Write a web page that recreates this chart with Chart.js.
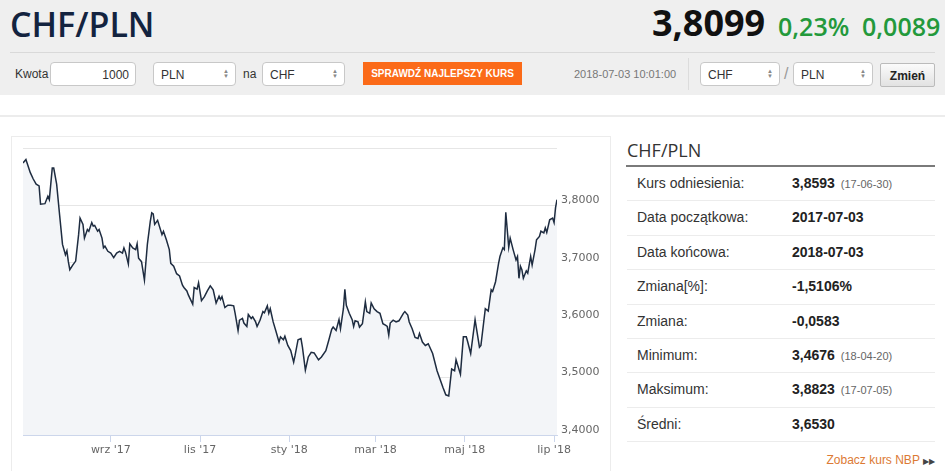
<!DOCTYPE html>
<html lang="pl">
<head>
    <meta charset="UTF-8">
    <title>CHF/PLN</title>
    <script src="https://cdn.jsdelivr.net/npm/chart.js"></script>
    <style>
        body { margin: 0; width: 945px; height: 471px; overflow: hidden; background: #fff;
               font-family: "Liberation Sans", Arial, sans-serif; color: #333; position: relative; }
        .abs { position: absolute; }
        #band { left: 0; top: 0; width: 945px; height: 95px; background: #efefef; }
        .big { font-family: "Open Sans", sans-serif; white-space: nowrap; }
        .ctl { top: 62px; height: 24px; line-height: 24px; font-size: 12px; }
        .sel { background: #fff; border: 1px solid #c8c8c8; border-radius: 4px; box-sizing: border-box;
               padding-left: 7px; color: #333; }
        .sel .arr { position: absolute; right: 6px; top: 6px; font-size: 6px; line-height: 5px; color: #888; }
        .row { position: absolute; left: 627px; width: 308px; height: 33.4px; line-height: 33.4px;
               border-bottom: 1px solid #ececec; font-size: 14px; }
        .row .lab { position: absolute; left: 10px; color: #333; }
        .row .val { position: absolute; left: 165px; font-weight: bold; color: #222; }
        .row .dt { font-size: 11px; font-weight: normal; color: #666; margin-left: 6px; }
    </style>
</head>
<body>
    <div id="band" class="abs"></div>
    <div class="abs big" style="left:10px;top:7px;font-size:34px;line-height:34px;font-weight:600;color:#13233f;">CHF/PLN</div>
    <div class="abs big" style="left:652px;top:5px;font-size:36px;line-height:36px;font-weight:700;color:#111;">3,8099</div>
    <div class="abs big" style="left:778px;top:14px;font-size:25px;line-height:25px;font-weight:600;color:#23993b;">0,23%</div>
    <div class="abs big" style="left:862px;top:14px;font-size:25px;line-height:25px;font-weight:600;color:#23993b;">0,0089</div>
    <div class="abs" style="left:10px;top:52px;width:925px;height:1px;background:#d9d9d9;"></div>

    <div class="abs ctl" style="left:15px;">Kwota</div>
    <div class="abs ctl sel" style="left:50px;width:86px;text-align:right;padding-right:6px;">1000</div>
    <div class="abs ctl sel" style="left:153px;width:83px;">PLN<span class="arr">&#9650;<br>&#9660;</span></div>
    <div class="abs ctl" style="left:243px;">na</div>
    <div class="abs ctl sel" style="left:262px;width:83px;">CHF<span class="arr">&#9650;<br>&#9660;</span></div>
    <div class="abs ctl" style="left:363px;width:159px;height:23px;line-height:23px;background:#fb6a18;color:#fff;font-size:10px;font-weight:bold;text-align:center;">SPRAWDŹ NAJLEPSZY KURS</div>
    <div class="abs ctl" style="left:574px;font-size:11px;color:#777;">2018-07-03 10:01:00</div>
    <div class="abs" style="left:688px;top:58px;width:1px;height:32px;background:#dcdcdc;"></div>
    <div class="abs ctl sel" style="left:700px;width:80px;">CHF<span class="arr">&#9650;<br>&#9660;</span></div>
    <div class="abs ctl" style="left:784px;font-size:16px;color:#999;">/</div>
    <div class="abs ctl sel" style="left:793px;width:80px;">PLN<span class="arr">&#9650;<br>&#9660;</span></div>
    <div class="abs ctl" style="left:880px;top:63px;width:55px;box-sizing:border-box;border:1px solid #bbb;border-radius:2px;background:linear-gradient(#fbfbfb,#e2e2e2);font-weight:bold;text-align:center;color:#222;">Zmień</div>

    <div class="abs" style="left:0;top:115px;width:945px;height:2px;background:#ececec;"></div>
    <div class="abs" style="left:11px;top:136px;width:598px;height:340px;border:1px solid #ececec;border-bottom:none;"></div>

    <div class="abs" style="left:12px;top:137px;width:598px;height:334px;">
        <canvas id="rateChart" width="598" height="334"></canvas>
    </div>

    <div class="abs big" style="left:627px;top:141px;font-size:18px;line-height:18px;color:#333;">CHF/PLN</div>
    <div class="abs" style="left:626px;top:165px;width:309px;height:2px;background:#7a7a7a;"></div>
    <div id="stats"></div>
    <div class="abs" style="left:760px;width:175px;top:453px;font-size:12px;text-align:right;color:#dc7a34;">Zobacz kurs NBP <span style="font-size:8px;color:#444;">&#9654;&#9654;</span></div>

    <script>
        // dni od 2017-07-03
        const days = [
            0, 2, 5, 7, 9, 11, 12, 15, 17, 18,
            20, 21, 23, 25, 27, 29, 30, 31, 32, 34,
            36, 38, 39, 41, 42, 44, 45, 47, 48, 49,
            51, 52, 54, 55, 56, 58, 60, 62, 64, 66,
            68, 69, 70, 72, 73, 75, 77, 78, 79, 81,
            83, 85, 87, 88, 89, 90, 92, 95, 96, 98,
            100, 101, 103, 105, 107, 109, 110, 112, 113, 116,
            117, 119, 120, 122, 124, 126, 128, 130, 132, 134,
            135, 136, 138, 140, 142, 144, 145, 147, 148, 150,
            151, 153, 154, 156, 157, 159, 160, 162, 164, 165,
            167, 168, 169, 171, 173, 175, 176, 178, 179, 181,
            183, 185, 186, 188, 190, 191, 193, 195, 197, 199,
            202, 204, 207, 209, 211, 212, 214, 216, 217, 219,
            220, 221, 223, 225, 226, 227, 229, 230, 232, 234,
            235, 237, 238, 240, 242, 244, 246, 248, 249, 250,
            251, 253, 255, 257, 258, 260, 261, 263, 264, 266,
            268, 270, 271, 273, 275, 277, 280, 283, 287, 289,
            291, 293, 295, 296, 299, 301, 303, 304, 306, 309,
            312, 313, 316, 318, 320, 321, 323, 325, 326, 328,
            329, 330, 332, 333, 335, 337, 338, 339, 340, 341,
            342, 344, 345, 347, 348, 350, 351, 353, 354, 356,
            357, 358, 360, 362, 363, 364, 365
        ];
        const rates = [
            3.874, 3.880, 3.857, 3.846, 3.837, 3.834, 3.802, 3.803, 3.816, 3.810,
            3.865, 3.865, 3.837, 3.784, 3.732, 3.714, 3.721, 3.702, 3.688, 3.696,
            3.703, 3.749, 3.778, 3.767, 3.743, 3.758, 3.755, 3.770, 3.764, 3.765,
            3.755, 3.758, 3.743, 3.726, 3.729, 3.720, 3.717, 3.709, 3.717, 3.720,
            3.717, 3.726, 3.719, 3.698, 3.733, 3.726, 3.723, 3.733, 3.708, 3.702,
            3.670, 3.732, 3.772, 3.787, 3.785, 3.767, 3.774, 3.749, 3.755, 3.740,
            3.723, 3.699, 3.694, 3.681, 3.677, 3.661, 3.657, 3.651, 3.644, 3.628,
            3.657, 3.654, 3.665, 3.634, 3.641, 3.651, 3.660, 3.653, 3.630, 3.642,
            3.636, 3.641, 3.622, 3.626, 3.626, 3.625, 3.612, 3.582, 3.600, 3.603,
            3.595, 3.589, 3.610, 3.603, 3.606, 3.597, 3.589, 3.600, 3.615, 3.613,
            3.625, 3.612, 3.620, 3.597, 3.580, 3.562, 3.571, 3.566, 3.572, 3.556,
            3.547, 3.527, 3.539, 3.566, 3.568, 3.553, 3.513, 3.536, 3.544, 3.543,
            3.531, 3.536, 3.547, 3.565, 3.584, 3.588, 3.582, 3.601, 3.585, 3.620,
            3.654, 3.626, 3.612, 3.601, 3.589, 3.599, 3.597, 3.588, 3.594, 3.632,
            3.615, 3.612, 3.630, 3.620, 3.615, 3.612, 3.594, 3.591, 3.589, 3.574,
            3.595, 3.600, 3.597, 3.599, 3.603, 3.612, 3.615, 3.609, 3.597, 3.585,
            3.570, 3.568, 3.577, 3.562, 3.556, 3.559, 3.542, 3.512, 3.483, 3.470,
            3.468, 3.515, 3.512, 3.531, 3.506, 3.571, 3.571, 3.562, 3.542, 3.601,
            3.553, 3.556, 3.620, 3.616, 3.653, 3.650, 3.667, 3.698, 3.711, 3.726,
            3.723, 3.788, 3.727, 3.743, 3.723, 3.705, 3.711, 3.673, 3.694, 3.688,
            3.673, 3.686, 3.682, 3.711, 3.696, 3.723, 3.740, 3.746, 3.755, 3.752,
            3.761, 3.753, 3.775, 3.778, 3.770, 3.796, 3.810
        ];
        const monthTicks = [60, 121, 182, 241, 302, 363];
        const monthLabels = ["wrz '17", "lis '17", "sty '18", "mar '18", "maj '18", "lip '18"];

        const statLabels = ['Kurs odniesienia:', 'Data początkowa:', 'Data końcowa:', 'Zmiana[%]:',
                            'Zmiana:', 'Minimum:', 'Maksimum:', 'Średni:'];
        const statValues = ['3,8593', '2017-07-03', '2018-07-03', '-1,5106%', '-0,0583', '3,4676', '3,8823', '3,6530'];
        const statDates = ['(17-06-30)', '', '', '', '', '(18-04-20)', '(17-07-05)', ''];

        // tabelka po prawej
        const stats = document.getElementById('stats');
        statLabels.forEach((lab, i) => {
            const row = document.createElement('div');
            row.className = 'row';
            row.style.top = (167 + i * 34.4) + 'px';
            row.innerHTML = '<span class="lab">' + lab + '</span><span class="val">' + statValues[i] +
                (statDates[i] ? '<span class="dt">' + statDates[i] + '</span>' : '') + '</span>';
            stats.appendChild(row);
        });

        const axisFont = { family: 'DejaVu Sans', size: 11 };
        const ctx = document.getElementById('rateChart').getContext('2d');
        new Chart(ctx, {
            type: 'line',
            data: {
                datasets: [{
                    data: days.map((d, i) => ({ x: d, y: rates[i] })),
                    borderColor: '#1e2c40',
                    borderWidth: 1.5,
                    backgroundColor: '#f3f5f8',
                    fill: 'start',
                    pointRadius: 0,
                    tension: 0
                }]
            },
            options: {
                responsive: false,
                animation: false,
                layout: { padding: { left: 11, top: 11, right: 0, bottom: 0 } },
                plugins: { legend: { display: false }, tooltip: { enabled: false } },
                scales: {
                    x: {
                        type: 'linear',
                        min: 0,
                        max: 365,
                        afterBuildTicks: s => { s.ticks = monthTicks.map(v => ({ value: v })); },
                        afterFit: s => { s.height = 36; },
                        ticks: {
                            autoSkip: false,
                            maxRotation: 0,
                            padding: 2,
                            color: '#666',
                            font: axisFont,
                            callback: v => monthLabels[monthTicks.indexOf(v)]
                        },
                        grid: { drawOnChartArea: false, tickLength: 7, color: '#ccd6eb' },
                        border: { color: '#ccd6eb' }
                    },
                    y: {
                        position: 'right',
                        min: 3.4,
                        max: 3.9,
                        afterFit: s => { s.width = 53; },
                        ticks: {
                            stepSize: 0.1,
                            padding: 4,
                            labelOffset: -5,
                            color: '#666',
                            font: axisFont,
                            callback: v => v > 3.89 ? '' : v.toFixed(4).replace('.', ',')
                        },
                        grid: { color: '#e6e6e6', drawTicks: false },
                        border: { display: false }
                    }
                }
            }
        });
    </script>
</body>
</html>
